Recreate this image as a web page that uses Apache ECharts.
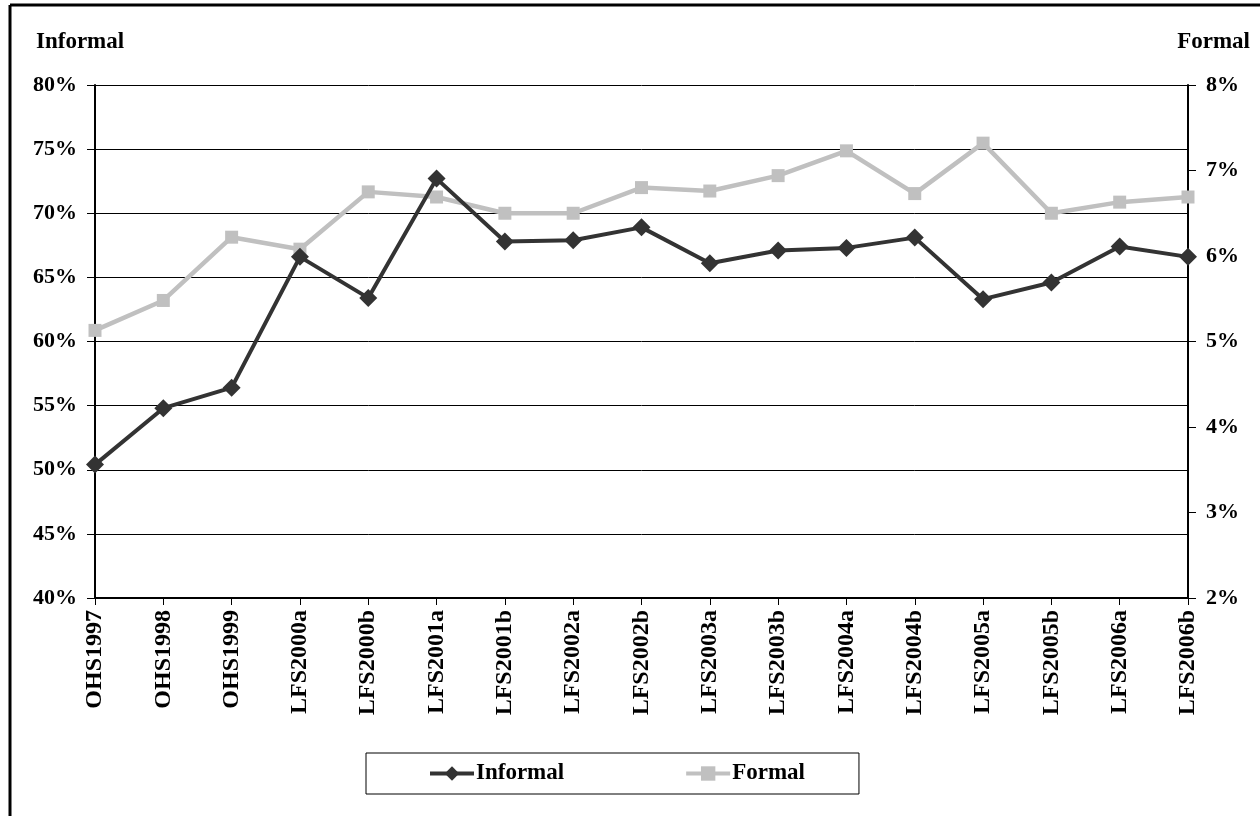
<!DOCTYPE html>
<html>
<head>
<meta charset="utf-8">
<script src="https://cdn.jsdelivr.net/npm/echarts@6/dist/echarts.min.js"></script>
<style>
  html, body { margin: 0; padding: 0; background: #fff; }
  #chart { width: 1260px; height: 816px; }
</style>
</head>
<body>
<div id="chart"></div>
<script>
// Survey rounds (October Household Surveys, then Labour Force Surveys)
const categories = [
  'OHS1997', 'OHS1998', 'OHS1999', 'LFS2000a', 'LFS2000b', 'LFS2001a',
  'LFS2001b', 'LFS2002a', 'LFS2002b', 'LFS2003a', 'LFS2003b', 'LFS2004a',
  'LFS2004b', 'LFS2005a', 'LFS2005b', 'LFS2006a', 'LFS2006b'
];

// Informal sector share, left axis (%)
const informal = [
  50.4, 54.8, 56.4, 66.6, 63.4, 72.7,
  67.8, 67.9, 68.9, 66.1, 67.1, 67.3,
  68.1, 63.3, 64.6, 67.4, 66.6
];

// Formal sector share, right axis (%)
const formal = [
  5.13, 5.48, 6.22, 6.08, 6.75, 6.69,
  6.50, 6.50, 6.80, 6.76, 6.94, 7.23,
  6.73, 7.32, 6.50, 6.63, 6.69
];

// Axis ranges
const leftAxis = { min: 40, max: 80, step: 5 };
const rightAxis = { min: 2, max: 8, step: 1 };

const FONT = '"Liberation Serif", "Times New Roman", serif';
const chart = echarts.init(document.getElementById('chart'), null, { renderer: 'canvas' });

chart.setOption({
  backgroundColor: '#ffffff',
  animation: false,
  textStyle: { fontFamily: FONT, fontWeight: 'bold', color: '#000' },
  grid: { left: 95, right: 72, top: 85, bottom: 218, containLabel: false },
  graphic: [
    // frame around the figure
    { type: 'line', shape: { x1: 10, y1: 5, x2: 1260, y2: 5 }, style: { stroke: '#000', lineWidth: 3 } },
    { type: 'line', shape: { x1: 10, y1: 5, x2: 10, y2: 816 }, style: { stroke: '#000', lineWidth: 3 } },
    // axis captions
    { type: 'text', left: 36, top: 31, style: { text: 'Informal', font: 'bold 23px ' + FONT, fill: '#000' } },
    { type: 'text', right: 10, top: 31, style: { text: 'Formal', font: 'bold 23px ' + FONT, fill: '#000' } }
  ],
  legend: {
    left: 366,
    top: 753,
    width: 496,
    padding: [9, 54, 9, 62],
    itemGap: 120,
    itemWidth: 44,
    itemHeight: 18,
    borderColor: '#000',
    borderWidth: 1,
    lineStyle: { width: 4 },
    textStyle: { fontFamily: FONT, fontWeight: 'bold', fontSize: 23, color: '#000', padding: [0, 0, 0, -3] },
    data: ['Informal', 'Formal']
  },
  xAxis: {
    type: 'category',
    data: categories,
    boundaryGap: false,
    axisLine: { lineStyle: { color: '#000', width: 2 } },
    axisTick: { show: true, length: 7, lineStyle: { color: '#000', width: 1 } },
    axisLabel: {
      rotate: 90,
      margin: 12,
      interval: 0,
      fontFamily: FONT, fontWeight: 'bold', fontSize: 24, color: '#000'
    },
    splitLine: { show: false }
  },
  yAxis: [
    {
      type: 'value',
      position: 'left',
      min: leftAxis.min, max: leftAxis.max, interval: leftAxis.step,
      axisLine: { show: true, lineStyle: { color: '#000', width: 2 } },
      axisTick: { show: true, length: 8, lineStyle: { color: '#000' } },
      axisLabel: {
        formatter: '{value}%', margin: 18,
        fontFamily: FONT, fontWeight: 'bold', fontSize: 22, color: '#000'
      },
      splitLine: { show: true, lineStyle: { color: '#000', width: 1 } }
    },
    {
      type: 'value',
      position: 'right',
      min: rightAxis.min, max: rightAxis.max, interval: rightAxis.step,
      axisLine: { show: true, lineStyle: { color: '#000', width: 2 } },
      axisTick: { show: true, length: 8, lineStyle: { color: '#000' } },
      axisLabel: {
        formatter: '{value}%', margin: 18,
        fontFamily: FONT, fontWeight: 'bold', fontSize: 22, color: '#000'
      },
      splitLine: { show: false }
    }
  ],
  series: [
    {
      name: 'Informal',
      type: 'line',
      yAxisIndex: 0,
      data: informal,
      z: 3,
      symbol: 'diamond',
      symbolSize: 18,
      lineStyle: { color: '#333333', width: 4 },
      itemStyle: { color: '#333333' }
    },
    {
      name: 'Formal',
      type: 'line',
      yAxisIndex: 1,
      data: formal,
      z: 2,
      symbol: 'rect',
      symbolSize: 13,
      lineStyle: { color: '#c0c0c0', width: 4.5 },
      itemStyle: { color: '#c0c0c0' }
    }
  ]
});
</script>
</body>
</html>
